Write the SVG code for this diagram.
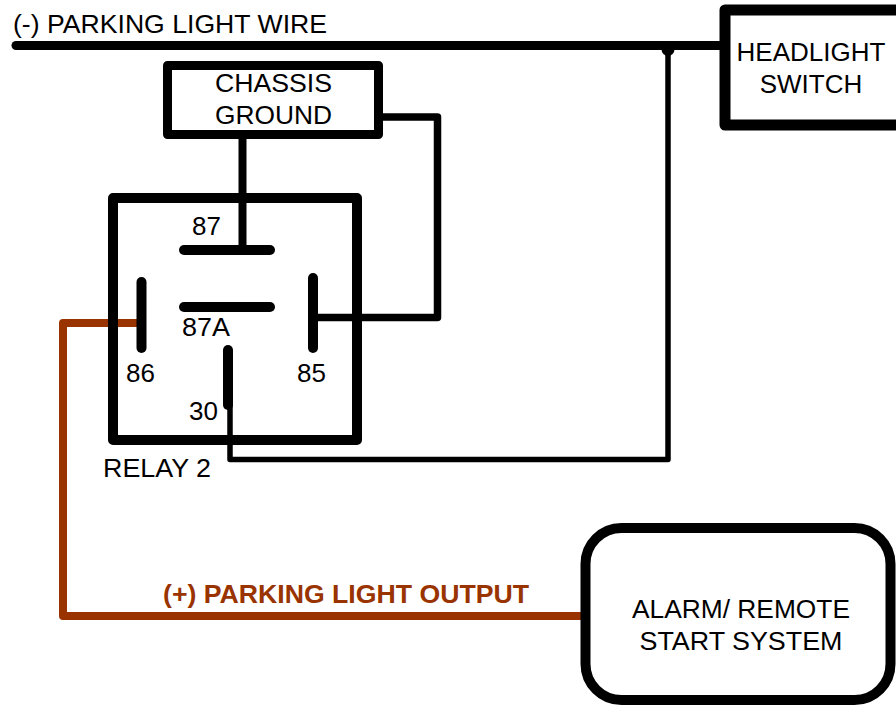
<svg xmlns="http://www.w3.org/2000/svg" width="896" height="706" viewBox="0 0 896 706">
<style>
text{font-family:"Liberation Sans",Arial,sans-serif;font-size:26px;fill:#000}
.box{fill:#fff;stroke:#000;stroke-linejoin:round}
.w{fill:none;stroke:#000;stroke-linecap:round;stroke-linejoin:round}
.or{fill:none;stroke:#993300;stroke-width:8;stroke-linecap:round;stroke-linejoin:round}
.pin{stroke:#000;stroke-width:10;stroke-linecap:round}
</style>
<rect width="896" height="706" fill="#fff"/>
<g id="connectors">
<line class="w" x1="16" y1="45.5" x2="724" y2="45.5" stroke-width="9"/>
<circle cx="668" cy="49.5" r="6.5" fill="#000"/>
<polyline class="w" points="230,405 230,459.5 668,459.5 668,46" stroke-width="5.5"/>
<line class="w" x1="242.5" y1="135" x2="242.5" y2="250" stroke-width="8"/>
<polyline class="w" points="380,117 437.5,117 437.5,317.5 313,317.5" stroke-width="7.5"/>
<polyline class="or" points="142,323 63,323 63,616 581,616"/>
</g>
<g id="label-wire"><text x="13" y="33" textLength="314" lengthAdjust="spacingAndGlyphs">(-) PARKING LIGHT WIRE</text></g>
<g id="label-output"><text x="163" y="603" textLength="366" lengthAdjust="spacingAndGlyphs" style="fill:#993300;font-weight:bold;font-size:25px">(+) PARKING LIGHT OUTPUT</text></g>
<g id="headlight-switch">
<rect class="box" x="725" y="10" width="190" height="115" stroke-width="11"/>
<text x="811" y="61" text-anchor="middle">HEADLIGHT</text>
<text x="811" y="93" text-anchor="middle">SWITCH</text>
</g>
<g id="chassis-ground">
<rect class="box" x="167.5" y="65.5" width="211" height="69" stroke-width="9"/>
<text x="273.5" y="92" text-anchor="middle" textLength="117" lengthAdjust="spacingAndGlyphs">CHASSIS</text>
<text x="273.5" y="124" text-anchor="middle" textLength="117" lengthAdjust="spacingAndGlyphs">GROUND</text>
</g>
<g id="relay-2">
<rect class="box" x="113" y="198" width="244" height="242" stroke-width="10" fill="none" style="fill:none"/>
<line class="pin" x1="184" y1="250" x2="270" y2="250"/>
<line class="pin" x1="184" y1="307" x2="270" y2="307"/>
<line class="pin" x1="141.5" y1="282" x2="141.5" y2="348"/>
<line class="pin" x1="313" y1="278" x2="313" y2="348"/>
<line class="pin" x1="228" y1="350" x2="228" y2="405"/>
<text x="192" y="235">87</text>
<text x="182" y="336" textLength="48" lengthAdjust="spacingAndGlyphs">87A</text>
<text x="126" y="382">86</text>
<text x="297" y="382">85</text>
<text x="189" y="420">30</text>
<text x="103" y="477" textLength="108" lengthAdjust="spacingAndGlyphs">RELAY 2</text>
</g>
<g id="alarm-remote-start">
<rect class="box" x="585.5" y="528" width="305" height="172" rx="36" ry="36" stroke-width="10"/>
<text x="741" y="618" text-anchor="middle" textLength="218" lengthAdjust="spacingAndGlyphs">ALARM/ REMOTE</text>
<text x="741" y="650" text-anchor="middle" textLength="203" lengthAdjust="spacingAndGlyphs">START SYSTEM</text>
</g>
</svg>
